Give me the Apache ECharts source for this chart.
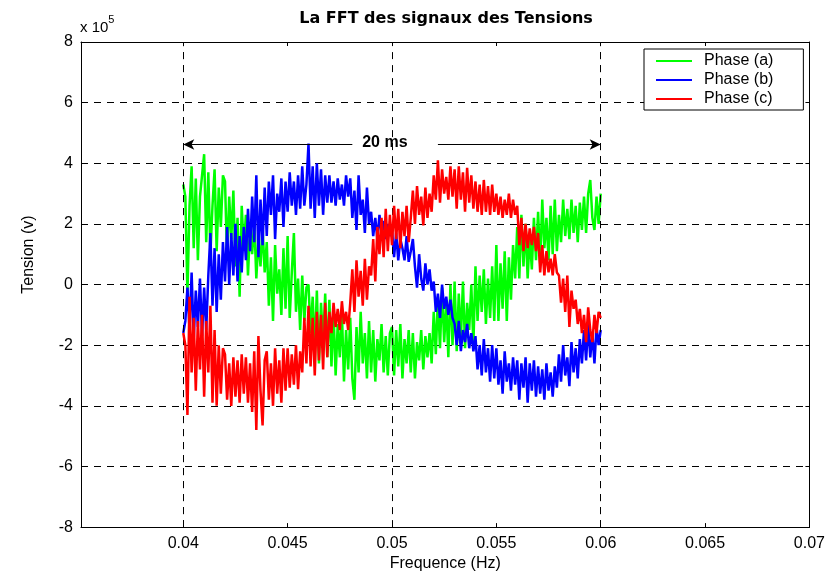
<!DOCTYPE html>
<html>
<head>
<meta charset="utf-8">
<script src="https://cdn.jsdelivr.net/npm/echarts@6/dist/echarts.min.js"></script>
<style>
html,body{margin:0;padding:0;background:#fff;}
#chart{width:828px;height:577px;}
</style>
</head>
<body>
<div id="chart"></div>
<script>
// ---- data (values in units of 1e5 V) ----
const tStart = 0.04;
const tStep = 0.0001;
const xTicks = [0.04, 0.045, 0.05, 0.055, 0.06, 0.065, 0.07];
const xGridLines = [0.04, 0.045, 0.05, 0.055, 0.06, 0.065];
const yTicks = [-8, -6, -4, -2, 0, 2, 4, 6, 8];
const seriesNames = ['Phase (a)', 'Phase (b)', 'Phase (c)'];
const seriesColors = ['#00ff00', '#0000ff', '#ff0000'];

const phaseA = [
  3.3, 2.9, -0.3, 2.6, 3.9, 1.2, 3.5, 0.8, 2.9, 3.6,
  4.3, 1.4, 3.7, 1.0, 2.6, 3.8, 1.1, 3.2, 1.9, 3.6,
  3.4, 0.8, 2.9, 1.5, 3.1, 0.6, 2.2, -0.4, 2.6, 1.2,
  2.3, 0.3, 1.9, 1.0, 2.1, 0.2, 1.5, 0.6, 1.9, 0.4,
  1.4, -0.7, 0.9, -1.2, 1.3, -0.3, 0.5, -1.0, 1.2, -0.8,
  1.6, -1.1, 0.4, 1.7, -0.9, 0.2, -1.5, 0.3, -1.2, -0.1,
  0.0, -1.6, -0.4, -2.2, -0.2, -2.6, -0.6, -1.9, -0.3, -2.4,
  -0.5, -2.7, -0.9, -3.0, -1.3, -2.4, -0.9, -3.2, -1.5, -2.8,
  -1.1, -3.1, -3.8, -1.4, -2.9, -0.9, -2.6, -1.6, -3.1, -1.2,
  -2.9, -1.5, -3.2, -1.8, -2.5, -1.3, -2.9, -1.7, -3.0, -1.6,
  -1.4, -3.0, -1.5, -2.7, -1.3, -3.1, -1.8, -2.6, -1.5, -2.9,
  -1.6, -3.1, -1.9, -2.5, -1.5, -2.8, -1.7, -2.4, -1.6, -2.6,
  -0.9, -2.3, -0.4, -2.1, -0.1, -1.9, -0.6, -2.4, 0.0, -2.0,
  0.1, -2.2, -0.3, -1.8, 0.1, -2.1, -0.6, -1.5, 0.0, -2.0,
  0.6, -1.2, 0.3, -0.9, 0.5, -1.3, 0.2, -1.1, 0.6, -1.2,
  1.3, -1.2, 0.7, -0.8, 1.1, -1.2, 0.9, -0.5, 1.3, 0.2,
  1.9, 0.2, 2.3, 0.6, 2.0, 0.2, 1.6, 0.5, 2.2, 0.8,
  2.4, 0.7, 2.8, 1.2, 2.2, 0.8, 2.6, 1.0, 2.8, 1.1,
  2.3, 1.4, 2.8, 1.6, 2.5, 1.5, 2.8, 1.7, 2.6, 1.4,
  2.7, 1.8, 2.9, 1.7, 3.0, 3.45, 2.2, 1.8, 2.9, 2.0,
  3.0
];
const phaseB = [
  -1.6, -1.2, -0.1, -1.5, 0.4, -1.8, -0.2, -1.4, 0.2, -1.7,
  -0.1, -1.5, 0.3, 1.7, -0.7, 1.2, -0.9, 1.0, -0.5, 1.4,
  0.1, 1.9, 0.0, 1.7, 0.3, 2.0, 0.1, 1.6, 0.4, 1.9,
  0.8, 2.5, 1.1, 2.9, 1.4, 3.6, 0.9, 2.8, 1.3, 3.2,
  1.6, 3.4, 2.3, 3.6, 1.5, 3.0, 2.4, 3.5, 1.9, 3.4,
  2.4, 3.7, 2.6, 3.4, 2.3, 3.6, 2.5, 3.9, 2.6, 3.3,
  4.65, 2.5, 3.9, 2.2, 4.0, 2.6, 3.8, 2.3, 3.6, 2.7,
  3.6, 2.7, 3.4, 2.6, 3.5, 2.8, 3.3, 2.6, 3.6, 2.9,
  3.5, 2.2, 3.1, 1.8, 3.6, 2.3, 2.8, 1.7, 3.2, 2.0,
  2.4, 1.6, 2.2, 1.5, 2.3, 1.7, 2.1, 1.5, 2.0, 1.6,
  1.8, 0.9, 1.7, 0.8, 1.5, 1.2, 0.8, 1.6, 0.75, 1.1,
  1.5, 0.6, -0.1, 1.0, 0.2, -0.2, 0.7, 0.0, 0.5, -0.2,
  0.1, -0.9, -0.3, -1.1, 0.0, -0.8, -0.4, -1.0, -0.5, -1.1,
  -1.3, -2.0, -1.2, -2.2, -1.5, -1.9, -1.3, -2.1, -1.6, -2.2,
  -1.7, -2.8, -2.0, -3.0, -1.8, -2.9, -2.1, -3.2, -2.0, -3.1,
  -2.1, -3.3, -2.5, -3.6, -2.2, -3.2, -2.6, -3.5, -2.4, -3.3,
  -2.5, -3.8, -2.6, -3.4, -2.4, -3.9, -2.6, -3.5, -2.5, -3.7,
  -2.7, -3.6, -2.8, -3.8, -2.6, -3.5, -2.9, -3.7, -2.7, -3.4,
  -2.3, -3.2, -2.0, -3.0, -2.4, -3.35, -1.9, -2.9, -2.1, -3.1,
  -1.8, -2.6, -1.5, -2.5, -1.3, -2.4, -1.6, -2.6, -1.4, -2.0,
  -1.5
];
const phaseC = [
  -1.6, -2.0, -4.3, -0.4, -2.9, -1.1, -3.5, -1.2, -2.8, -1.0,
  -3.7, -1.2, -2.9, -0.7, -3.9, -1.5, -4.0, -2.0, -3.6, -2.1,
  -2.3, -3.8, -2.6, -4.0, -2.4, -3.7, -2.5, -3.9, -2.3, -3.6,
  -2.4, -3.9, -2.6, -4.2, -2.2, -4.8, -1.7, -3.5, -4.65, -2.5,
  -2.2, -3.8, -2.6, -4.0, -2.1, -3.6, -2.5, -3.9, -2.1, -3.5,
  -2.1, -3.4, -2.3, -3.3, -2.0, -3.45, -2.2, -2.9, -1.1, -2.6,
  -0.7, -2.7, -1.1, -3.0, -0.9, -2.5, -1.0, -2.8, -0.6, -2.4,
  -0.9, -1.6, -0.6, -1.4, -0.8, -1.5, -0.55, -1.3, -0.9, -1.5,
  -0.6, 0.5, -0.9, 0.8, -0.4, 0.45, -0.7, 0.85, -0.5, 0.6,
  0.3, 1.5, 0.1, 1.9, 1.0, 2.2, 0.9, 2.5, 1.1, 2.3,
  1.3, 2.6, 1.5, 2.5, 1.2, 2.4, 1.6, 2.6, 1.4, 2.2,
  3.1, 2.0, 3.25, 2.3, 2.9, 1.95, 3.2, 2.2, 3.0, 2.4,
  3.6, 2.8, 4.1, 2.7, 3.8, 3.0, 3.55, 2.8, 3.9, 2.9,
  3.8, 2.5, 3.9, 2.8, 3.7, 2.4, 3.85, 2.7, 3.6, 2.5,
  3.4, 2.4, 3.3, 2.3, 3.45, 2.4, 3.25, 2.3, 3.3, 2.4,
  3.0, 2.3, 2.9, 2.2, 2.8, 2.3, 3.0, 2.2, 2.8, 2.3,
  2.6, 1.3, 2.2, 1.1, 2.0, 1.2, 1.85, 1.3, 1.9, 1.1,
  1.7, 0.4, 1.3, 0.3, 1.1, 0.4, 0.85, 0.3, 1.0, 0.4,
  0.3, -0.6, 0.2, -0.9, 0.3, -1.4, -0.2, -0.8, -0.5, -1.3,
  -0.8, -1.6, -1.0, -1.9, -0.75, -1.5, -1.9, -1.0, -1.6, -0.9,
  -1.1
];

// "20 ms" period annotation (data coordinates)
const arrowY = 4.62;
const arrowStart = 0.04;
const arrowEnd = 0.06;
const arrowGapStart = 0.0481;
const arrowGapEnd = 0.0522;
const arrowLabel = '20 ms';
const arrowLabelX = 0.04966;
const arrowLabelY = 4.68;

// ---- chart ----
const FONT = 'Liberation Sans, Arial, sans-serif';
const phases = [phaseA, phaseB, phaseC];
function toPoints(values) {
  return values.map((v, i) => [+(tStart + i * tStep).toFixed(5), v]);
}

const chart = echarts.init(document.getElementById('chart'), null, {renderer: 'canvas'});

const signalSeries = phases.map((vals, k) => ({
  name: seriesNames[k],
  type: 'line',
  data: toPoints(vals),
  symbol: 'none',
  showSymbol: false,
  z: 3 + k,
  lineStyle: {color: seriesColors[k], width: 2.5},
  itemStyle: {color: seriesColors[k]},
  emphasis: {disabled: true},
  animation: false
}));

const dashed = {type: [7, 6], color: '#000', width: 1};

const option = {
  animation: false,
  backgroundColor: '#fff',
  title: {
    text: 'La FFT des signaux des Tensions',
    left: 441,
    top: 6,
    textAlign: 'center',
    textStyle: {fontFamily: 'DejaVu Sans, sans-serif', fontSize: 16, fontWeight: 'bold', color: '#000'}
  },
  legend: {
    data: seriesNames,
    orient: 'vertical',
    left: 644,
    top: 49,
    icon: 'rect',
    itemWidth: 36,
    itemHeight: 2,
    itemGap: 3,
    padding: [4, 30, 3, 12],
    backgroundColor: '#fff',
    borderColor: '#000',
    borderWidth: 1,
    borderRadius: 0,
    selectedMode: false,
    z: 10,
    textStyle: {fontFamily: FONT, fontSize: 16, color: '#000', padding: [0, 0, 0, 7]}
  },
  graphic: [{
    type: 'text',
    left: 80,
    top: 14,
    style: {
      text: '{a|x 10}{b|5}',
      rich: {
        a: {fontFamily: FONT, fontSize: 15, fill: '#000', padding: [6, 0, 0, 0]},
        b: {fontFamily: FONT, fontSize: 11, fill: '#000', verticalAlign: 'top'}
      }
    }
  }],
  grid: {left: 81, right: 18, top: 42, bottom: 43},
  xAxis: [{
    type: 'value',
    position: 'bottom',
    min: 0.0351,
    max: 0.07,
    name: 'Frequence (Hz)',
    nameLocation: 'middle',
    nameGap: 28,
    nameTextStyle: {fontFamily: FONT, fontSize: 16, color: '#000'},
    axisLine: {show: true, onZero: false, lineStyle: {color: '#000', width: 1}},
    axisTick: {show: true, inside: true, length: 4, customValues: xTicks, lineStyle: {color: '#000'}},
    axisLabel: {customValues: xTicks, fontFamily: FONT, fontSize: 16, color: '#000', margin: 8,
      formatter: v => String(v)},
    splitLine: {show: false}
  }, {
    type: 'value',
    position: 'top',
    min: 0.0351,
    max: 0.07,
    axisLine: {show: true, onZero: false, lineStyle: {color: '#000', width: 1}},
    axisTick: {show: true, inside: true, length: 4, customValues: xTicks, lineStyle: {color: '#000'}},
    axisLabel: {show: false},
    splitLine: {show: false}
  }],
  yAxis: [{
    type: 'value',
    position: 'left',
    min: -8,
    max: 8,
    interval: 2,
    name: 'Tension (v)',
    nameLocation: 'middle',
    nameRotate: 90,
    nameGap: 44,
    nameTextStyle: {fontFamily: FONT, fontSize: 16, color: '#000', padding: [0, 0, 0, 60]},
    axisLine: {show: true, onZero: false, lineStyle: {color: '#000', width: 1}},
    axisTick: {show: true, inside: true, length: 4, lineStyle: {color: '#000'}},
    axisLabel: {fontFamily: FONT, fontSize: 16, color: '#000', margin: 8, formatter: v => String(v)},
    splitLine: {show: true, lineStyle: dashed}
  }, {
    type: 'value',
    position: 'right',
    min: -8,
    max: 8,
    interval: 2,
    axisLine: {show: true, onZero: false, lineStyle: {color: '#000', width: 1}},
    axisTick: {show: true, inside: true, length: 4, lineStyle: {color: '#000'}},
    axisLabel: {show: false},
    splitLine: {show: false}
  }],
  series: [{
    name: 'grid-x',
    type: 'line',
    data: [],
    z: 1,
    silent: true,
    markLine: {
      silent: true,
      symbol: 'none',
      animation: false,
      label: {show: false},
      lineStyle: dashed,
      emphasis: {disabled: true},
      data: xGridLines.map(v => ({xAxis: v}))
    }
  }, {
    name: 'period',
    type: 'line',
    data: [],
    z: 2,
    silent: true,
    markLine: {
      silent: true,
      animation: false,
      symbolSize: [8, 11],
      label: {show: false},
      lineStyle: {type: 'solid', color: '#000', width: 1},
      emphasis: {disabled: true},
      data: [
        [{coord: [arrowStart, arrowY], symbol: 'arrow'}, {coord: [arrowGapStart, arrowY], symbol: 'none'}],
        [{coord: [arrowGapEnd, arrowY], symbol: 'none'}, {coord: [arrowEnd, arrowY], symbol: 'arrow'}]
      ]
    },
    markPoint: {
      silent: true,
      animation: false,
      symbol: 'circle',
      symbolSize: 1,
      itemStyle: {color: 'rgba(0,0,0,0)'},
      label: {show: true, position: 'inside', formatter: arrowLabel,
        fontFamily: FONT, fontSize: 16, fontWeight: 'bold', color: '#000'},
      data: [{coord: [arrowLabelX, arrowLabelY], value: arrowLabel}]
    }
  }].concat(signalSeries)
};

chart.setOption(option);
</script>
</body>
</html>
